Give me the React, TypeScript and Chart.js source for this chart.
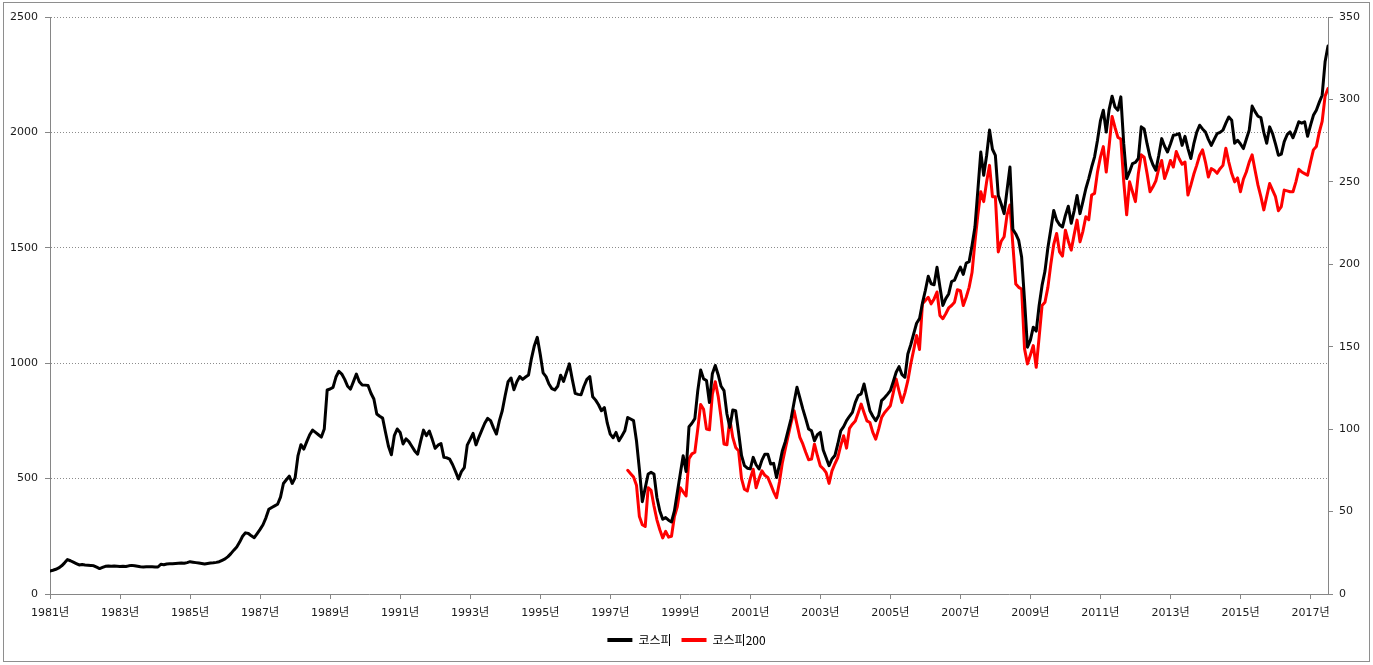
import React, { useEffect, useRef } from "react";
import { Chart, registerables } from "chart.js";

Chart.register(...registerables);

// 월별 지수, 1981년 1월부터
const firstYear = 1981;

const kospi: number[] = [
  100, 103, 107, 113, 122, 135, 149, 144, 138, 132, 126, 128, // 1981
  126, 125, 124, 122, 116, 110, 115, 120, 121, 120, 121, 120, // 1982
  119, 120, 119, 122, 124, 122, 120, 118, 117, 118, 118, 118, // 1983
  117, 117, 129, 127, 130, 131, 131, 132, 133, 134, 133, 136, // 1984
  140, 138, 136, 134, 132, 130, 132, 134, 135, 137, 140, 146, // 1985
  152, 162, 175, 190, 204, 225, 250, 265, 262, 252, 244, 262, // 1986
  280, 300, 330, 367, 375, 382, 389, 420, 479, 495, 511, 479, // 1987
  503, 600, 647, 628, 660, 690, 710, 700, 690, 680, 715, 884, // 1988
  888, 895, 940, 965, 953, 930, 900, 888, 920, 953, 920, 906, // 1989
  905, 903, 870, 845, 780, 770, 762, 700, 640, 603, 686, 715, // 1990
  700, 650, 672, 660, 640, 620, 606, 660, 710, 686, 706, 670, // 1991
  631, 645, 652, 592, 590, 584, 560, 530, 498, 530, 548, 645, // 1992
  670, 696, 646, 680, 710, 740, 761, 751, 720, 693, 750, 794, // 1993
  860, 920, 936, 885, 920, 942, 930, 940, 949, 1020, 1076, 1112, // 1994
  1040, 958, 942, 910, 890, 884, 900, 948, 921, 960, 997, 930, // 1995
  869, 865, 863, 900, 930, 942, 855, 840, 820, 794, 808, 740, // 1996
  693, 677, 700, 664, 685, 707, 765, 758, 751, 664, 540, 400, // 1997
  460, 520, 527, 520, 418, 360, 324, 331, 320, 312, 360, 440, // 1998
  520, 599, 531, 725, 740, 760, 880, 971, 932, 925, 830, 954, // 1999
  990, 950, 900, 881, 780, 722, 797, 794, 700, 600, 556, 545, // 2000
  542, 592, 560, 542, 580, 606, 606, 563, 566, 505, 560, 621, // 2001
  660, 710, 760, 830, 896, 850, 802, 760, 715, 707, 664, 690, // 2002
  700, 624, 590, 556, 585, 600, 650, 707, 725, 751, 770, 787, // 2003
  830, 860, 867, 910, 850, 794, 770, 751, 773, 838, 850, 865, // 2004
  881, 920, 961, 985, 950, 939, 1040, 1080, 1127, 1173, 1193, 1260, // 2005
  1315, 1377, 1344, 1340, 1416, 1330, 1250, 1280, 1300, 1354, 1360, 1390, // 2006
  1416, 1385, 1434, 1440, 1510, 1590, 1750, 1915, 1814, 1900, 2010, 1927, // 2007
  1900, 1727, 1690, 1648, 1750, 1850, 1580, 1560, 1532, 1460, 1272, 1069, // 2008
  1100, 1156, 1139, 1250, 1337, 1399, 1500, 1580, 1662, 1620, 1600, 1590, // 2009
  1640, 1680, 1606, 1660, 1727, 1648, 1700, 1756, 1800, 1850, 1894, 1966, // 2010
  2050, 2096, 2002, 2100, 2157, 2110, 2096, 2154, 1950, 1800, 1830, 1865, // 2011
  1870, 1887, 2024, 2015, 1950, 1894, 1860, 1836, 1900, 1973, 1940, 1915, // 2012
  1950, 1988, 1990, 1995, 1944, 1983, 1930, 1887, 1950, 2000, 2031, 2015, // 2013
  2002, 1970, 1944, 1970, 1995, 2000, 2010, 2040, 2067, 2053, 1953, 1966, // 2014
  1950, 1930, 1970, 2010, 2114, 2090, 2070, 2064, 2000, 1953, 2024, 1995, // 2015
  1950, 1901, 1906, 1960, 1990, 2002, 1977, 2010, 2046, 2040, 2046, 1983, // 2016
  2030, 2074, 2096, 2130, 2161, 2306, 2374, // 2017
];

// 코스피200, 1997년 7월부터 (오른쪽 축)
const kospi200Start = { year: 1997, month: 7 };

const kospi200: number[] = [
  75, 73, 71, 66, 47, 42, // 1997
  41, 64.5, 62.9, 53.4, 45, 39, 34, 38, 34.5, 35, 47, 53, // 1998
  64.5, 62, 59.5, 82, 85, 86, 100, 115, 112, 100, 99.6, 121, // 1999
  128.8, 120, 107, 91, 90.5, 106, 95, 88.9, 86.8, 70, 63.5, 62.5, // 2000
  70, 75.7, 64.5, 70, 74.7, 72, 70.7, 66.5, 62, 58.4, 68, 79.7, // 2001
  88, 96, 104, 111.2, 103, 95, 91, 86, 81.4, 81.8, 90.9, 84, // 2002
  77.7, 76, 73.6, 67.1, 74.7, 79, 82.8, 90, 96, 88.5, 100.5, 103, // 2003
  105, 110, 115.2, 110, 105, 104, 98, 93.9, 100, 107, 110, 112, // 2004
  114.2, 122, 130.4, 123, 116.2, 122, 129.4, 139.5, 148, 156.8, 148.3, 176, // 2005
  178, 180, 176, 179, 183.2, 169, 167, 170, 173.5, 175, 177, 184.6, // 2006
  184, 175, 180, 186, 195, 213.6, 230, 244, 238, 250, 260, 241, // 2007
  241, 207.5, 214, 216.7, 230, 236, 211.6, 188, 186, 185, 148.7, 139.6, // 2008
  145, 150.7, 137.5, 155.8, 175, 177, 186, 200, 212, 218.7, 207.5, 205, // 2009
  220.7, 214, 208.6, 218, 226.8, 213.6, 220, 228.8, 227, 242, 243, 256, // 2010
  265, 271.4, 256, 272, 289.7, 283, 277, 276, 250, 230, 250, 244, // 2011
  238, 255, 266.4, 265, 255, 244, 247, 250.6, 258, 263, 252, 257, // 2012
  263, 259, 268.4, 264, 260.7, 262, 242, 248, 254.6, 260, 266, 269.4, // 2013
  262, 253, 258, 257, 255.2, 258, 260, 270.4, 262, 255, 250, 252.4, // 2014
  244, 251.6, 256, 262, 266.4, 257, 248, 241, 233, 241, 249, 245, // 2015
  241, 232.5, 235, 245, 244.5, 244, 244, 250, 257.6, 256, 255, 254, // 2016
  262, 269.4, 271.4, 280, 286.7, 302, 306.6, // 2017
];

const tickYears = [
  1981, 1983, 1985, 1987, 1989, 1991, 1993, 1995, 1997, 1999, 2001, 2003, 2005, 2007, 2009, 2011,
  2013, 2015, 2017,
];

const seriesNames = ["코스피", "코스피200"];

const axisColor = "#868686";
const gridColor = "#8c8c8c";
const textColor = "#1a1a1a";
const tickFont = { family: '"DejaVu Sans", "Noto Sans CJK KR", sans-serif', size: 11 };

const monthIndex = (year: number, month: number) => (year - firstYear) * 12 + (month - 1);

// 바깥 테두리와 흰 배경
const framePlugin = {
  id: "frame",
  beforeDraw(chart: Chart) {
    const { ctx, width, height } = chart;
    ctx.save();
    ctx.fillStyle = "#ffffff";
    ctx.fillRect(0, 0, width, height);
    ctx.strokeStyle = "#8e8e8e";
    ctx.lineWidth = 1;
    ctx.strokeRect(3.5, 2.5, width - 7, height - 6);
    ctx.restore();
  },
};

const KospiChart: React.FC = () => {
  const canvasRef = useRef<HTMLCanvasElement | null>(null);

  useEffect(() => {
    if (!canvasRef.current) return;
    const offset200 = monthIndex(kospi200Start.year, kospi200Start.month);

    const chart = new Chart(canvasRef.current, {
      type: "line",
      data: {
        datasets: [
          {
            label: seriesNames[0],
            data: kospi.map((v, i) => ({ x: i, y: v })),
            borderColor: "#000000",
            backgroundColor: "#000000",
            borderWidth: 3,
            pointRadius: 0,
            borderJoinStyle: "round",
            borderCapStyle: "round",
            yAxisID: "y",
          },
          {
            label: seriesNames[1],
            data: kospi200.map((v, i) => ({ x: i + offset200, y: v })),
            borderColor: "#ff0000",
            backgroundColor: "#ff0000",
            borderWidth: 3,
            pointRadius: 0,
            borderJoinStyle: "round",
            borderCapStyle: "round",
            yAxisID: "y1",
          },
        ],
      },
      options: {
        responsive: true,
        maintainAspectRatio: false,
        animation: false,
        layout: { padding: { top: 17, bottom: 9, left: 0, right: 0 } },
        plugins: {
          tooltip: { enabled: false },
          legend: {
            position: "bottom",
            labels: {
              boxWidth: 25,
              boxHeight: 4,
              padding: 10,
              color: "#000000",
              font: { family: '"Noto Sans CJK KR", sans-serif', size: 12 },
              generateLabels: (c: Chart) =>
                Chart.defaults.plugins.legend.labels.generateLabels(c).map((l: any) => ({
                  ...l,
                  fillStyle: l.strokeStyle,
                  strokeStyle: "rgba(0,0,0,0)",
                  lineWidth: 0,
                })),
            },
          },
        },
        scales: {
          x: {
            type: "linear",
            min: 0,
            max: kospi.length - 1,
            afterBuildTicks: (scale: any) => {
              scale.ticks = tickYears.map((y) => ({ value: monthIndex(y, 1) }));
            },
            afterFit: (scale: any) => {
              scale.height = 30;
            },
            ticks: {
              autoSkip: false,
              maxRotation: 0,
              padding: 8,
              color: textColor,
              font: tickFont,
              callback: (v: any) => `${firstYear + Math.round(Number(v) / 12)}년`,
            },
            grid: { drawOnChartArea: false, tickLength: 5, color: axisColor },
            border: { color: axisColor },
          },
          y: {
            position: "left",
            min: 0,
            max: 2500,
            afterFit: (scale: any) => {
              scale.width = 50;
            },
            ticks: {
              stepSize: 500,
              padding: 7,
              color: textColor,
              font: tickFont,
              callback: (v: any) => String(v),
            },
            grid: {
              color: (ctx: any) => (ctx.tick && ctx.tick.value === 0 ? "rgba(0,0,0,0)" : gridColor),
              tickColor: axisColor,
              tickLength: 5,
            },
            border: { color: axisColor, dash: [1, 2] },
          },
          y1: {
            position: "right",
            min: 0,
            max: 350,
            afterFit: (scale: any) => {
              scale.width = 45;
            },
            ticks: {
              stepSize: 50,
              padding: 6,
              color: textColor,
              font: tickFont,
              callback: (v: any) => String(v),
            },
            grid: { drawOnChartArea: false, tickLength: 5, color: axisColor },
            border: { color: axisColor },
          },
        },
      },
      plugins: [framePlugin],
    });

    return () => {
      chart.destroy();
    };
  }, []);

  return (
    <div style={{ position: "fixed", left: 0, top: 0, width: 1373, height: 665, background: "#fff" }}>
      <canvas ref={canvasRef} />
    </div>
  );
};

export default function App() {
  return <KospiChart />;
}
